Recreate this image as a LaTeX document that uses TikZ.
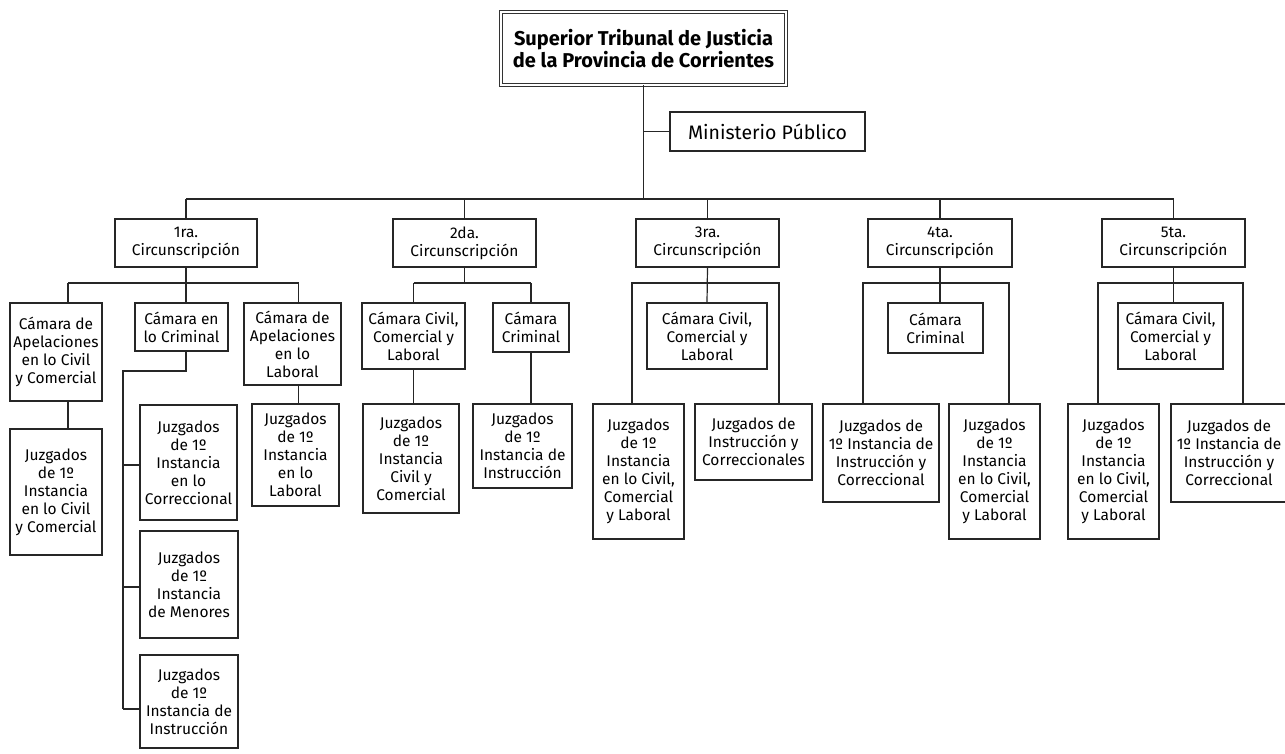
\documentclass[tikz,border=0pt]{standalone}
\usepackage{fontspec}
\setmainfont{Fira Sans}
\begin{document}
\begin{tikzpicture}[x=1pt,y=-1pt,
  box/.style={draw=black!85, line width=1.2pt, align=center, inner sep=0pt, outer sep=0pt,
    font=\fontsize{15.5}{18}\selectfont},
  titlebox/.style={draw=black!80, double=white, double distance=1.6pt, line width=0.9pt, align=center, inner sep=0pt,
    font=\bfseries\fontsize{20}{22}\selectfont},
  conn/.style={draw=black!85, line width=1.2pt}]
\useasboundingbox (0,0) rectangle (1285,754);
\newcommand\bx[7][box]{\node[#1, minimum width={(#5-#3)*1pt}, minimum height={(#6-#4)*1pt}] (#2) at ({(#3+#5)/2},{(#4+#6)/2}) {#7};}
% top level
\bx[titlebox]{top}{501}{12}{786}{85}{Superior Tribunal de Justicia\\de la Provincia de Corrientes}
\bx[box,font=\fontsize{19.5}{20}\selectfont]{min}{670}{112}{865}{151}{Ministerio Público}
% circunscripciones
\bx{c1}{115}{219}{257}{267}{1ra.\\Circunscripción}
\bx{c2}{393}{219}{536}{267}{2da.\\Circunscripción}
\bx{c3}{636}{219}{779}{267}{3ra.\\Circunscripción}
\bx{c4}{868}{219}{1012}{267}{4ta.\\Circunscripción}
\bx{c5}{1102}{219}{1245}{267}{5ta.\\Circunscripción}
% 1ra
\bx{a1}{10}{303}{102}{401}{Cámara de\\Apelaciones\\en lo Civil\\y Comercial}
\bx{a2}{135}{303}{228}{351}{Cámara en\\lo Criminal}
\bx{a3}{244}{303}{341}{385}{Cámara de\\Apelaciones\\en lo\\Laboral}
\bx{j1}{10}{429}{102}{555}{Juzgados\\de 1º\\Instancia\\en lo Civil\\y Comercial}
\bx{j2}{140}{405}{237}{520}{Juzgados\\de 1º\\Instancia\\en lo\\Correccional}
\bx{j3}{140}{531}{238}{638}{Juzgados\\de 1º\\Instancia\\de Menores}
\bx{j4}{140}{655}{238}{748}{Juzgados\\de 1º\\Instancia de\\Instrucción}
\bx{j5}{252}{404}{339}{506}{Juzgados\\de 1º\\Instancia\\en lo\\Laboral}
% 2da
\bx{b1}{362}{303}{465}{369}{Cámara Civil,\\Comercial y\\Laboral}
\bx{b2}{493}{303}{569}{352}{Cámara\\Criminal}
\bx{k1}{363}{404}{459}{513}{Juzgados\\de 1º\\Instancia\\Civil y\\Comercial}
\bx{k2}{473}{404}{572}{488}{Juzgados\\de 1º\\Instancia de\\Instrucción}
% 3ra
\bx{d1}{647}{303}{767}{369}{Cámara Civil,\\Comercial y\\Laboral}
\bx{l1}{593}{404}{684}{539}{Juzgados\\de 1º\\Instancia\\en lo Civil,\\Comercial\\y Laboral}
\bx{l2}{695}{404}{812}{480}{Juzgados de\\Instrucción y\\Correccionales}
% 4ta
\bx{e1}{888}{303}{983}{353}{Cámara\\Criminal}
\bx{m1}{823}{404}{939}{502}{Juzgados de\\1º Instancia de\\Instrucción y\\Correccional}
\bx{m2}{949}{404}{1040}{539}{Juzgados\\de 1º\\Instancia\\en lo Civil,\\Comercial\\y Laboral}
% 5ta
\bx{f1}{1118}{303}{1223}{369}{Cámara Civil,\\Comercial y\\Laboral}
\bx{n1}{1068}{404}{1159}{539}{Juzgados\\de 1º\\Instancia\\en lo Civil,\\Comercial\\y Laboral}
\bx{n2}{1171}{404}{1287}{502}{Juzgados de\\1º Instancia de\\Instrucción y\\Correccional}
% connectors: top level
\coordinate (bus) at (0,199);
\draw[conn] (top.south) -- (top.south |- bus);
\draw[conn] (top.south |- min.west) -- (min.west);
\draw[conn] (c1.north |- bus) -- (c5.north |- bus);
\foreach \c in {c1,c2,c3,c4,c5} \draw[conn] (\c.north |- bus) -- (\c.north);
% 1ra
\coordinate (sub) at (0,283);
\draw[conn] ([xshift=12pt]a1.north |- sub) -- ([xshift=6pt]a3.north |- sub);
\draw[conn] (c1.south) -- (c1.south |- sub);
\draw[conn] ([xshift=12pt]a1.north |- sub) -- ([xshift=12pt]a1.north);
\draw[conn] (c1.south |- sub) -- (c1.south |- a2.north);
\draw[conn] ([xshift=6pt]a3.north |- sub) -- ([xshift=6pt]a3.north);
\draw[conn] ([xshift=12pt]a1.south) -- ([xshift=12pt]a1.south |- j1.north);
\draw[conn] ([xshift=6pt]a3.south) -- ([xshift=6pt]a3.south |- j5.north);
\coordinate (spine) at (123,371);
\draw[conn] (c1.south |- a2.south) -- (c1.south |- spine) -- (spine) -- (spine |- 0,709);
\draw[conn] (spine |- 0,465) -- (j2.west |- 0,465);
\draw[conn] (spine |- 0,587) -- (j3.west |- 0,587);
\draw[conn] (spine |- 0,709) -- (j4.west |- 0,709);
% 2da
\draw[conn] (c2.south) -- (c2.south |- sub);
\draw[conn] (b1.north |- sub) -- (b2.north |- sub);
\draw[conn] (b1.north |- sub) -- (b1.north);
\draw[conn] (b2.north |- sub) -- (b2.north);
\draw[conn] (b1.south) -- (b1.south |- k1.north);
\draw[conn] (b2.south) -- (b2.south |- k2.north);
% 3ra
\coordinate (l1x) at (632,0); \coordinate (l2x) at (779,0);
\draw[conn] (c3.south) -- (d1.north);
\draw[conn] (l1x |- l1.north) -- (l1x |- sub) -- (l2x |- sub) -- (l2x |- l2.north);
% 4ta
\coordinate (m1x) at (863,0); \coordinate (m2x) at (1009,0);
\draw[conn] (c4.south) -- (c4.south |- e1.north);
\draw[conn] (m1x |- m1.north) -- (m1x |- sub) -- (m2x |- sub) -- (m2x |- m2.north);
% 5ta
\coordinate (n1x) at (1098,0); \coordinate (n2x) at (1243,0);
\draw[conn] (c5.south) -- (c5.south |- f1.north);
\draw[conn] (n1x |- n1.north) -- (n1x |- sub) -- (n2x |- sub) -- (n2x |- n2.north);
\end{tikzpicture}
\end{document}
